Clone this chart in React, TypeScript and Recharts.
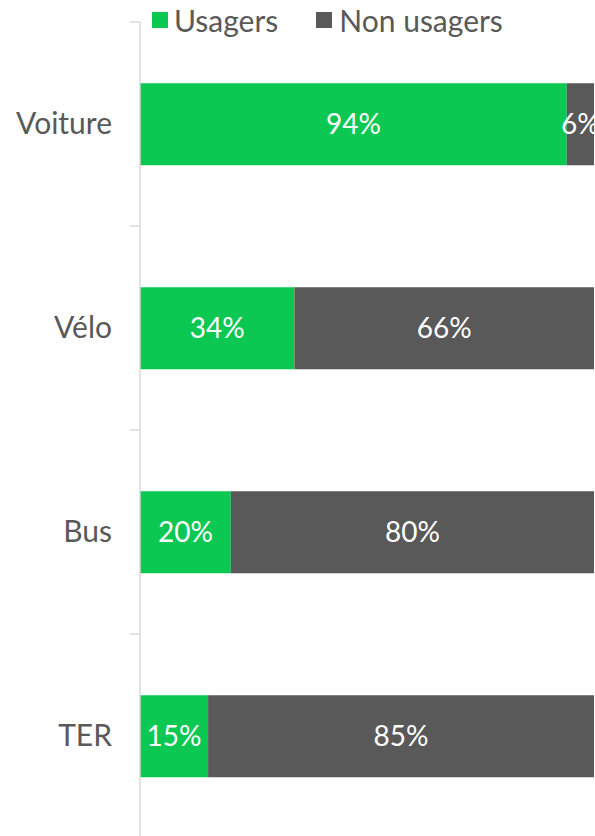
import React from "react";
import { BarChart, Bar, XAxis, YAxis, LabelList } from "recharts";

const categories = ["Voiture", "Vélo", "Bus", "TER"];
const usagers = [0.94, 0.34, 0.2, 0.15];
const nonUsagers = [0.06, 0.66, 0.8, 0.85];
const seriesNames = ["Usagers", "Non usagers"];

const GREEN = "#0BC852";
const GREY = "#595959";
const TEXT = "#595959";
const AXIS = "#D9D9D9";
const FONT = "Lato, 'Open Sans', sans-serif";

const W = 595;
const H = 860;
const M = { top: 22, right: 1, bottom: 22, left: 0 };
const Y_AXIS_W = 140;
const PLOT_H = H - M.top - M.bottom;

const data = categories.map((c, i) => ({ name: c, u: usagers[i], n: nonUsagers[i] }));

const pct = (v: any) => `${Math.round(Number(v) * 100)}%`;

const Tick = (props: any) => {
  const { y, payload, index } = props;
  const half = PLOT_H / categories.length / 2;
  return (
    <g>
      <line x1={Y_AXIS_W - 10} x2={Y_AXIS_W} y1={y - half} y2={y - half} stroke={AXIS} strokeWidth={1.5} />
      {index === categories.length - 1 && (
        <line x1={Y_AXIS_W - 10} x2={Y_AXIS_W} y1={y + half} y2={y + half} stroke={AXIS} strokeWidth={1.5} />
      )}
      <text x={Y_AXIS_W - 28} y={y} dy={10} textAnchor="end" fill={TEXT} fontSize={30} fontFamily={FONT}>
        {payload.value}
      </text>
    </g>
  );
};

export default function App() {
  return (
    <div style={{ position: "absolute", left: 0, top: 0, width: W, height: 836, overflow: "hidden", background: "#fff" }}>
      <BarChart width={W} height={H} data={data} layout="vertical" margin={M} barCategoryGap="30%">
        <XAxis type="number" domain={[0, 1]} hide />
        <YAxis
          type="category"
          dataKey="name"
          width={Y_AXIS_W}
          axisLine={{ stroke: AXIS, strokeWidth: 1.5 }}
          tickLine={false}
          tick={<Tick />}
          interval={0}
        />
        <Bar dataKey="u" stackId="a" fill={GREEN} isAnimationActive={false}>
          <LabelList dataKey="u" position="center" formatter={pct} fill="#fff" fontSize={28} fontFamily={FONT} />
        </Bar>
        <Bar dataKey="n" stackId="a" fill={GREY} isAnimationActive={false}>
          <LabelList dataKey="n" position="center" formatter={pct} fill="#fff" fontSize={28} fontFamily={FONT} />
        </Bar>
      </BarChart>
      <div style={{ position: "absolute", top: 1, left: 152, display: "flex", alignItems: "center", fontFamily: FONT, fontSize: 30, color: TEXT, lineHeight: "38px" }}>
        <span style={{ width: 16, height: 16, background: GREEN, display: "inline-block", marginRight: 6 }} />
        <span style={{ marginRight: 38 }}>{seriesNames[0]}</span>
        <span style={{ width: 16, height: 16, background: GREY, display: "inline-block", marginRight: 7 }} />
        <span>{seriesNames[1]}</span>
      </div>
    </div>
  );
}
